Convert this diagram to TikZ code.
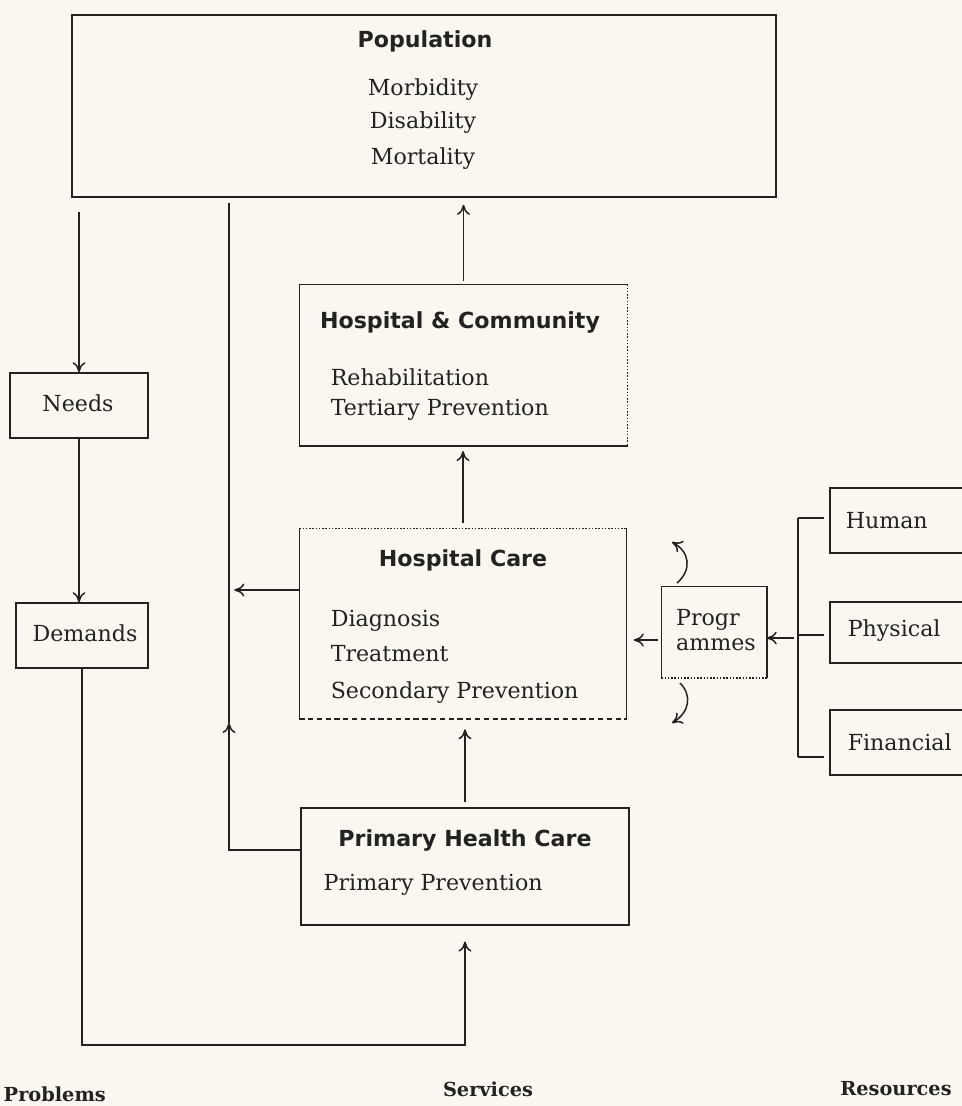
\documentclass[tikz,border=0pt]{standalone}
\usepackage{fontspec}
\setmainfont{DejaVu Serif}
\newfontfamily\headfont{DejaVu Sans}
\usetikzlibrary{arrows.meta,fit}
\definecolor{paper}{RGB}{249,247,240}
\definecolor{ink}{RGB}{36,34,32}

\begin{document}
\begin{tikzpicture}[
  x=0.02cm, y=-0.02cm,
  color=ink, line width=0.85pt,
  txt/.style={font=\fontsize{12.6}{14.7}\selectfont, text=ink, inner sep=0pt},
  head/.style={font=\headfont\bfseries\fontsize{12.6}{15}\selectfont, text=ink, inner sep=0pt},
  col/.style={font=\bfseries\fontsize{11}{14}\selectfont, text=ink, inner sep=0pt},
  box/.style={draw=ink, inner sep=0pt},
  frame/.style={inner sep=0pt},
  arr/.style={-{To[length=2mm,width=2.6mm]}}
]
\useasboundingbox (0,0) rectangle (962,1106);
\fill[paper] (0,0) rectangle (962,1106);
\clip (0,0) rectangle (962,1106);

% boxes
\node[box, fit={(72,15) (776,197)}] (pop) {};
\node[box, fit={(10,373) (148,438)}] (needs) {};
\node[box, fit={(16,603) (148,668)}] (dem) {};
\node[frame, fit={(300,285) (627,445)}] (hcom) {};
\node[frame, fit={(300,529) (626,718)}] (hcare) {};
\node[box, fit={(301,808) (629,925)}] (prim) {};
\node[frame, fit={(662,587) (766,677)}] (prog) {};
\node[box, fit={(830,488) (990,553)}] (human) {};
\node[box, fit={(830,602) (990,663)}] (phys) {};
\node[box, fit={(830,710) (990,775)}] (fin) {};

% sides of the boxes with broken edges
\draw (hcom.south east) -- (hcom.south west) -- (hcom.north west) -- (hcom.north east);
\draw[densely dotted] (hcom.north east) -- (hcom.south east);
\draw (hcare.north west) -- (hcare.south west);
\draw (hcare.north east) -- (hcare.south east);
\draw[densely dotted] (hcare.north west) -- (hcare.north east);
\draw[densely dashed] (hcare.south west) -- (hcare.south east);
\draw (prog.south west) -- (prog.north west) -- (prog.north east) -- (prog.south east);
\draw[densely dotted] (prog.south west) -- (prog.south east);

% texts
\node[head, anchor=base] (popt) at (425,47) {Population};
\node[txt, anchor=base] (morb) at (423,95) {Morbidity};
\node[txt, anchor=base] (disa) at (423,128) {Disability};
\node[txt, anchor=base] (mort) at (423,164) {Mortality};
\node[txt, anchor=base] (needst) at (78,411) {Needs};
\node[txt, anchor=base] (demt) at (85,641) {Demands};
\node[head, anchor=base] (hcomt) at (460,328) {Hospital \& Community};
\node[txt, anchor=base west] (rehab) at (330,385) {Rehabilitation};
\node[txt, anchor=base west] (tert) at (330,415) {Tertiary Prevention};
\node[head, anchor=base] (hcaret) at (463,566) {Hospital Care};
\node[txt, anchor=base west] (diag) at (330,626) {Diagnosis};
\node[txt, anchor=base west] (treat) at (330,661) {Treatment};
\node[txt, anchor=base west] (second) at (330,698) {Secondary Prevention};
\node[head, anchor=base] (primt) at (465,846) {Primary Health Care};
\node[txt, anchor=base west] (primprev) at (323,890) {Primary Prevention};
\node[txt, align=left] (progt) at (716,630) {Progr\\ammes};
\node[txt, anchor=base west] (humant) at (845,528) {Human};
\node[txt, anchor=base west] (physt) at (847,636) {Physical};
\node[txt, anchor=base west] (fint) at (847,750) {Financial};
\node[col, anchor=base west] (probl) at (3,1101) {Problems};
\node[col, anchor=base] (serv) at (488,1096) {Services};
\node[col, anchor=base] (reso) at (896,1095) {Resources};

% problems column
\coordinate (loop) at (465,1045);
\draw[arr, shorten <=8pt] (pop.south -| needs.north) -- (needs.north);
\draw[arr] (needs.south) -- (needs.south |- dem.north);
\draw[arr, shorten >=9pt] (dem.south) -- (dem.south |- loop) -- (loop) -- (prim.south);

% services column
\coordinate (mid) at (229,850);
\coordinate (midtip) at (229,723);
\draw[arr] (prim.west |- mid) -- (mid) -- (midtip);
\draw[shorten >=3pt] (midtip) -- (midtip |- pop.south);
\draw[arr, shorten >=3pt] (hcare.west |- 0,590) -- (midtip |- 0,590);
\draw[arr, shorten >=4pt, shorten <=2pt] (hcom.north) -- (hcom.north |- pop.south);
\draw[arr, shorten >=3pt, shorten <=3pt] (hcare.north) -- (hcare.north |- hcom.south);
\draw[arr, shorten >=6pt, shorten <=3pt] (prim.north) -- (prim.north |- hcare.south);

% resources column
\coordinate (brtop) at (798,518);
\coordinate (brbot) at (798,757);
\draw (brtop) -- (brbot);
\draw[shorten >=3pt] (brtop) -- (brtop -| human.west);
\draw[shorten >=3pt] (brtop |- 0,635) -- (phys.west |- 0,635);
\draw[shorten >=3pt] (brbot) -- (brbot -| fin.west);
\draw[arr, shorten <=2pt] (brtop |- 0,638) -- (prog.east |- 0,638);
\draw[arr, shorten >=4pt, shorten <=2pt] (prog.west |- 0,640) -- (hcare.east |- 0,640);

% feedback of the programmes
\coordinate (upA) at (677,583);
\coordinate (upB) at (672,542);
\coordinate (dnA) at (680,683);
\coordinate (dnB) at (672,723);
\draw[arr] (upA) .. controls (692,570) and (690,552) .. (upB);
\draw[arr] (dnA) .. controls (692,695) and (690,712) .. (dnB);
\end{tikzpicture}
\end{document}
